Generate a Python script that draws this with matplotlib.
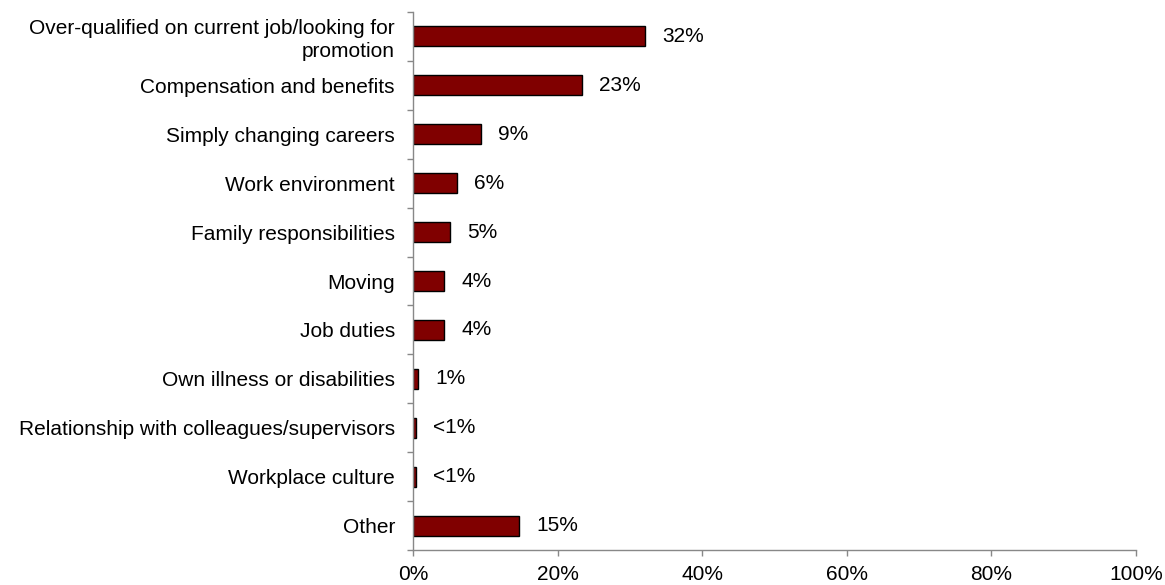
import matplotlib.pyplot as plt
from matplotlib.ticker import PercentFormatter

plt.rcParams['font.family'] = ['Liberation Sans', 'DejaVu Sans']

# reasons for leaving, top to bottom
reasons = ['Over-qualified on current job/looking for\npromotion',
           'Compensation and benefits',
           'Simply changing careers',
           'Work environment',
           'Family responsibilities',
           'Moving',
           'Job duties',
           'Own illness or disabilities',
           'Relationship with colleagues/supervisors',
           'Workplace culture',
           'Other']
shares = [32.1, 23.4, 9.4, 6.1, 5.1, 4.3, 4.3, 0.7, 0.4, 0.4, 14.7]
share_labels = ['32%', '23%', '9%', '6%', '5%', '4%', '4%', '1%', '<1%', '<1%', '15%']

fs = 15

fig = plt.figure(figsize=(11.65, 5.85), dpi=100)
ax = fig.add_axes([0.3545, 0.0598, 0.6205, 0.9197])

ypos = list(range(len(reasons)))
ax.barh(ypos, shares, height=0.41, color='#800000', edgecolor='black', linewidth=1)

for y, v, lab in zip(ypos, shares, share_labels):
    ax.annotate(lab, (v, y), xytext=(17, 0), textcoords='offset pixels',
                va='center', ha='left', fontsize=fs)

ax.set_xlim(0, 100)
ax.set_ylim(len(reasons) - 0.5, -0.5)
ax.set_xticks([0, 20, 40, 60, 80, 100])
ax.xaxis.set_major_formatter(PercentFormatter(decimals=0))
ax.set_yticks(ypos)
ax.set_yticklabels(reasons, fontsize=fs, linespacing=1.25)
ax.set_yticks([i + 0.5 for i in range(-1, len(reasons))], minor=True)

ax.tick_params(axis='y', which='major', length=0, pad=13)
ax.tick_params(axis='y', which='minor', length=4, color='#888888', width=1)
ax.tick_params(axis='x', length=4, color='#888888', width=1, labelsize=fs, pad=7)

for side in ['top', 'right']:
    ax.spines[side].set_visible(False)
for side in ['left', 'bottom']:
    ax.spines[side].set_color('#888888')
    ax.spines[side].set_linewidth(1)

for lab in ax.get_yticklabels():
    lab.set_multialignment('right')

fig.savefig('out.png', dpi=100)
